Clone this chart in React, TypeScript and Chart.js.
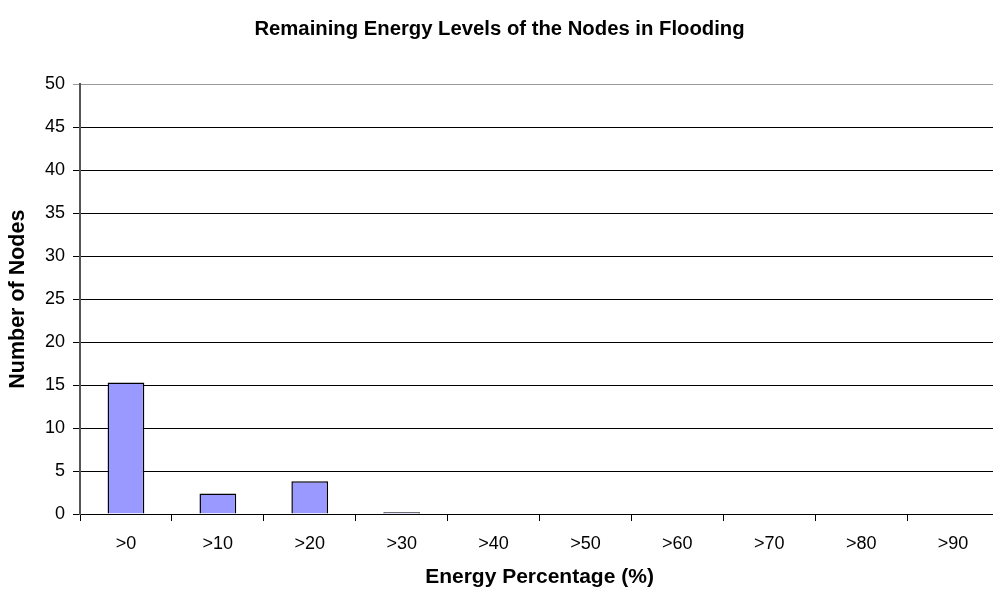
import React, { useEffect, useRef } from "react";
import { Chart, registerables } from "chart.js";

Chart.register(...registerables);

const categories = [">0", ">10", ">20", ">30", ">40", ">50", ">60", ">70", ">80", ">90"];
const nodeCounts = [15.3, 2.4, 3.8, 0.2, 0, 0, 0, 0, 0, 0];
const yTicks = [0, 5, 10, 15, 20, 25, 30, 35, 40, 45, 50];

const FONT = "'Liberation Sans', Arial, sans-serif";

export default function App() {
  const ref = useRef<HTMLCanvasElement | null>(null);
  useEffect(() => {
    document.body.style.overflow = "hidden";
    const chart = new Chart(ref.current!, {
      type: "bar",
      data: {
        labels: categories,
        datasets: [
          {
            data: nodeCounts,
            backgroundColor: "#9999ff",
            borderColor: "#000000",
            borderWidth: 1.5,
            barPercentage: 0.4,
            categoryPercentage: 1,
          },
        ],
      },
      options: {
        animation: false,
        responsive: false,
        maintainAspectRatio: false,
        layout: { padding: { left: 0, right: 1, top: 0, bottom: 0 } },
        plugins: {
          legend: { display: false },
          tooltip: { enabled: false },
          title: {
            display: true,
            text: "Remaining Energy Levels of the Nodes in Flooding",
            color: "#000",
            font: { family: FONT, size: 20.3, weight: "bold", lineHeight: 1.2 },
            padding: { top: 17, bottom: 43 },
          },
        },
        scales: {
          x: {
            offset: true,
            afterFit: (axis: any) => {
              axis.height = 78;
            },
            grid: {
              offset: true,
              drawOnChartArea: false,
              drawTicks: true,
              tickLength: 7,
              color: "#000",
            },
            border: { color: "#000", width: 1 },
            ticks: { color: "#000", font: { family: FONT, size: 18 }, padding: 12, maxRotation: 0 },
            title: {
              display: true,
              text: "Energy Percentage (%)",
              color: "#000",
              font: { family: FONT, size: 21, weight: "bold", lineHeight: 1.2 },
              padding: { top: 0, bottom: 2 },
            },
          },
          y: {
            min: 0,
            max: 50,
            afterFit: (axis: any) => {
              axis.width = 80;
            },
            afterBuildTicks: (axis: any) => {
              axis.ticks = yTicks.map((v) => ({ value: v }));
            },
            grid: {
              color: (ctx: any) => (ctx.tick && ctx.tick.value === 50 ? "#999" : "#000"),
              drawTicks: true,
              tickLength: 7,
            },
            border: { color: "#555", width: 2 },
            ticks: { color: "#000", font: { family: FONT, size: 18 }, padding: 8 },
            title: {
              display: true,
              text: "Number of Nodes",
              color: "#000",
              font: { family: FONT, size: 21.5, weight: "bold", lineHeight: 1.2 },
              padding: { top: 5, bottom: 0 },
            },
          },
        },
      },
    });
    return () => chart.destroy();
  }, []);
  return (
    <div style={{ position: "fixed", left: 0, top: 0, width: 1000, height: 592, background: "#fff" }}>
      <canvas ref={ref} width={1000} height={592} style={{ display: "block" }} />
    </div>
  );
}
